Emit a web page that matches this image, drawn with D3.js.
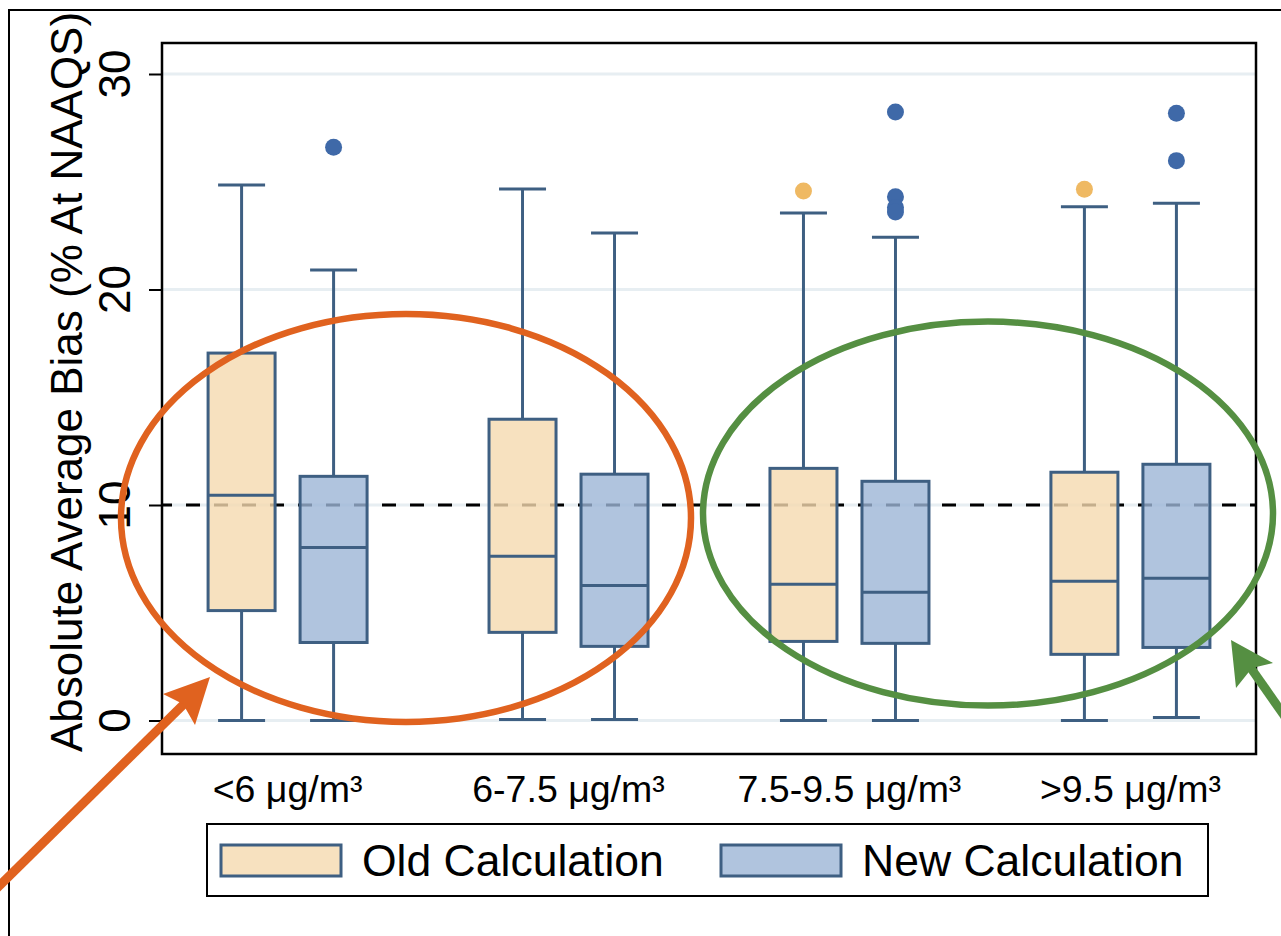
<!DOCTYPE html>
<html>
<head>
<meta charset="utf-8">
<script src="https://cdn.jsdelivr.net/npm/d3@7"></script>
<style>
  body { margin: 0; background: #fff; }
  svg { display: block; font-family: "Liberation Sans", Arial, sans-serif; }
</style>
</head>
<body>
<div id="chart"></div>
<script>
// data
categories = ["<6 μg/m³", "6-7.5 μg/m³", "7.5-9.5 μg/m³", ">9.5 μg/m³"];
series = ["Old Calculation", "New Calculation"];
yTicks = [0, 10, 20, 30];

oldLow = [0, 0.05, 0, 0];
oldQ1 = [5.1, 4.09, 3.67, 3.07];
oldMedian = [10.45, 7.62, 6.32, 6.46];
oldQ3 = [17.05, 13.98, 11.7, 11.52];
oldHigh = [24.85, 24.66, 23.55, 23.84];
oldOutliers = [[], [], [24.57], [24.65]];

newLow = [0, 0.05, 0, 0.14];
newQ1 = [3.62, 3.44, 3.58, 3.39];
newMedian = [8.03, 6.27, 5.95, 6.6];
newQ3 = [11.33, 11.43, 11.1, 11.89];
newHigh = [20.9, 22.62, 22.43, 24.0];
newOutliers = [[26.6], [], [28.24, 24.3, 23.8, 23.6], [28.18, 25.98]];

refLine = 10;

width = 1281;
height = 936;
plot = ({left: 162, top: 43, right: 1256, bottom: 754});
strokeCol = "#3e5f82";
fills = {"Old Calculation": "#f5d9af", "New Calculation": "#9cb5d6"};
dotCols = {"Old Calculation": "#efb963", "New Calculation": "#3f69a8"};

// build box table
boxes = [];
categories.forEach(function(c, i) {
    boxes.push({cat: c, s: series[0], low: oldLow[i], q1: oldQ1[i], med: oldMedian[i], q3: oldQ3[i], high: oldHigh[i], out: oldOutliers[i]});
    boxes.push({cat: c, s: series[1], low: newLow[i], q1: newQ1[i], med: newMedian[i], q3: newQ3[i], high: newHigh[i], out: newOutliers[i]});
});

const svg = d3.select("#chart").append("svg")
    .attr("width", width)
    .attr("height", height);

// outer figure frame
svg.append("path")
    .attr("d", "M9,940 L9,10 L1290,10")
    .attr("fill", "none")
    .attr("stroke", "#000")
    .attr("stroke-width", 2);

var x = d3.scalePoint()
    .domain(categories)
    .range([plot.left, plot.right])
    .padding(0.447);

var xSub = d3.scalePoint()
    .domain(series)
    .range([-46, 46]);

var y = d3.scaleLinear()
    .domain([0, 30])
    .range([720.5, 74]);

const boxW = 67;
const capW = 47;

// gridlines
svg.append("g")
    .selectAll("line")
    .data(yTicks)
    .join("line")
    .attr("x1", plot.left)
    .attr("x2", plot.right)
    .attr("y1", d => y(d))
    .attr("y2", d => y(d))
    .attr("stroke", "#e7eef2")
    .attr("stroke-width", 3);

// reference dashed line
svg.append("line")
    .attr("x1", plot.left)
    .attr("x2", plot.right)
    .attr("y1", y(refLine))
    .attr("y2", y(refLine))
    .attr("stroke", "#000")
    .attr("stroke-width", 2.8)
    .attr("stroke-dasharray", "14,14")
    .attr("stroke-dashoffset", 4);

// y axis ticks
svg.append("g")
    .attr("transform", `translate(${plot.left},0)`)
    .call(d3.axisLeft(y).tickValues(yTicks).tickSize(13).tickFormat(""))
    .call(g => g.select(".domain").remove())
    .call(g => g.selectAll("line").attr("stroke", "#000").attr("stroke-width", 2));

svg.append("g")
    .selectAll("text")
    .data(yTicks)
    .join("text")
    .attr("transform", d => `translate(130,${y(d)}) rotate(-90)`)
    .attr("text-anchor", "middle")
    .attr("font-size", "44px")
    .attr("fill", "#000")
    .text(d => d);

svg.append("text")
    .attr("transform", "translate(82,382) rotate(-90)")
    .attr("text-anchor", "middle")
    .attr("font-size", "44px")
    .attr("fill", "#000")
    .text("Absolute Average Bias (% At NAAQS)");

// x labels
svg.append("g")
    .selectAll("text")
    .data(categories)
    .join("text")
    .attr("x", d => x(d))
    .attr("y", 802)
    .attr("text-anchor", "middle")
    .attr("font-size", "37.5px")
    .attr("fill", "#000")
    .text(d => d);

// boxes
const bg = svg.append("g")
    .selectAll("g")
    .data(boxes)
    .join("g")
    .attr("transform", d => `translate(${x(d.cat) + xSub(d.s)},0)`);

bg.append("line")
    .attr("y1", d => y(d.high))
    .attr("y2", d => y(d.q3))
    .attr("stroke", strokeCol).attr("stroke-width", 3);
bg.append("line")
    .attr("y1", d => y(d.low))
    .attr("y2", d => y(d.q1))
    .attr("stroke", strokeCol).attr("stroke-width", 3);
bg.append("line")
    .attr("x1", -capW / 2).attr("x2", capW / 2)
    .attr("y1", d => y(d.high)).attr("y2", d => y(d.high))
    .attr("stroke", strokeCol).attr("stroke-width", 3);
bg.append("line")
    .attr("x1", -capW / 2).attr("x2", capW / 2)
    .attr("y1", d => y(d.low)).attr("y2", d => y(d.low))
    .attr("stroke", strokeCol).attr("stroke-width", 3);
bg.append("rect")
    .attr("x", -boxW / 2)
    .attr("width", boxW)
    .attr("y", d => y(d.q3))
    .attr("height", d => y(d.q1) - y(d.q3))
    .attr("fill", d => fills[d.s])
    .attr("fill-opacity", 0.8)
    .attr("stroke", strokeCol)
    .attr("stroke-width", 3);
bg.append("line")
    .attr("x1", -boxW / 2).attr("x2", boxW / 2)
    .attr("y1", d => y(d.med)).attr("y2", d => y(d.med))
    .attr("stroke", strokeCol).attr("stroke-width", 3);
bg.selectAll("circle")
    .data(d => d.out.map(v => ({v: v, s: d.s})))
    .join("circle")
    .attr("cy", d => y(d.v))
    .attr("r", 8.5)
    .attr("fill", d => dotCols[d.s]);

// plot frame
svg.append("rect")
    .attr("x", plot.left)
    .attr("y", plot.top)
    .attr("width", plot.right - plot.left)
    .attr("height", plot.bottom - plot.top)
    .attr("fill", "none")
    .attr("stroke", "#000")
    .attr("stroke-width", 2.5);

// legend
const leg = svg.append("g");
leg.append("rect")
    .attr("x", 207).attr("y", 824)
    .attr("width", 1001).attr("height", 72)
    .attr("fill", "#fff")
    .attr("stroke", "#000")
    .attr("stroke-width", 2);
const legX = [221, 721];
series.forEach(function(s, i) {
    leg.append("rect")
        .attr("x", legX[i]).attr("y", 845)
        .attr("width", 120).attr("height", 31)
        .attr("fill", fills[s])
        .attr("fill-opacity", 0.8)
        .attr("stroke", strokeCol)
        .attr("stroke-width", 3);
    leg.append("text")
        .attr("x", legX[i] + 141)
        .attr("y", 876)
        .attr("font-size", "44.5px")
        .attr("fill", "#000")
        .text(s);
});

// annotations: ellipses and arrows
const orange = "#e0621f";
const green = "#558f42";
const ann = svg.append("g");
ann.append("ellipse")
    .attr("cx", 406).attr("cy", y(9.4))
    .attr("rx", 285).attr("ry", 204)
    .attr("fill", "none").attr("stroke", orange).attr("stroke-width", 6.5);
ann.append("ellipse")
    .attr("cx", 988).attr("cy", y(9.6))
    .attr("rx", 285).attr("ry", 192)
    .attr("fill", "none").attr("stroke", green).attr("stroke-width", 6.5);

ann.append("line")
    .attr("x1", -10).attr("y1", 895)
    .attr("x2", 185).attr("y2", 703)
    .attr("stroke", orange).attr("stroke-width", 9);
ann.append("path")
    .attr("d", "M210,677 L163,694 L183,704 L195,725 Z")
    .attr("fill", orange);

ann.append("line")
    .attr("x1", 1300).attr("y1", 738)
    .attr("x2", 1248).attr("y2", 664)
    .attr("stroke", green).attr("stroke-width", 9);
ann.append("path")
    .attr("d", "M1231,640 L1273,663 L1252,668 L1236,688 Z")
    .attr("fill", green);
</script>
</body>
</html>
